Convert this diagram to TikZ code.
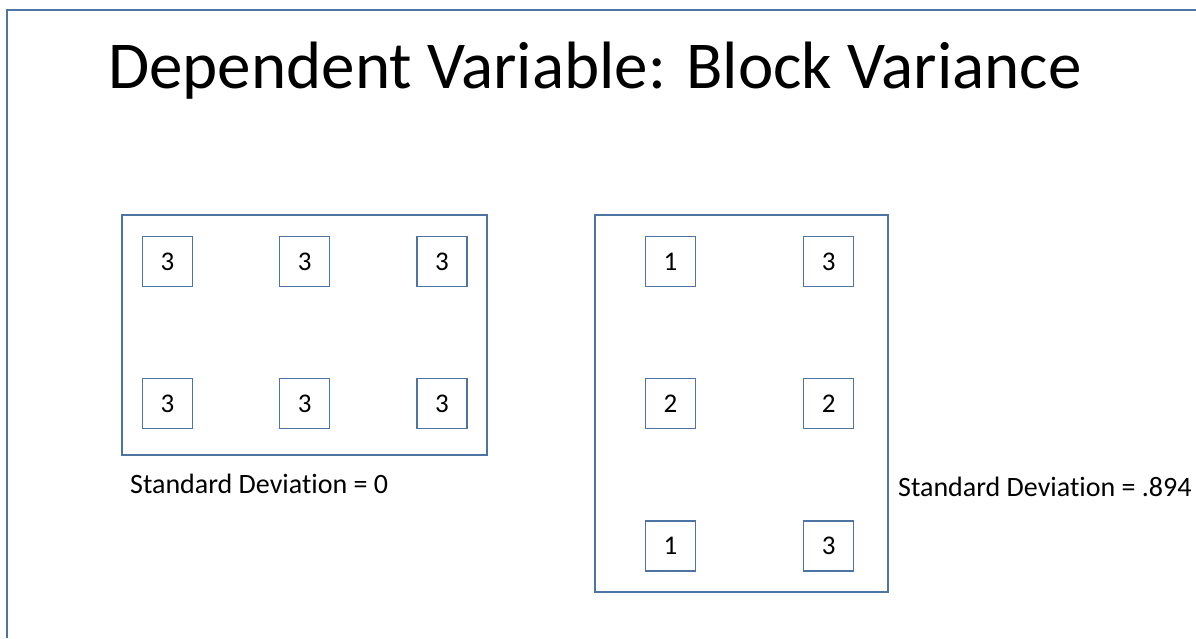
\documentclass[tikz,border=0pt]{standalone}
\usepackage{fontspec}
\setmainfont{Carlito}[Ligatures=NoCommon]
\usetikzlibrary{positioning}

\definecolor{frameblue}{RGB}{78,116,164}

\tikzset{
    outline/.style={draw=frameblue, line width=1.2pt},
    cell/.style={outline, minimum size=50pt, inner sep=0pt, font=\fontsize{27}{27}\selectfont},
    block/.style={outline, inner sep=0pt},
    caption/.style={font=\fontsize{28}{28}\selectfont, inner sep=0pt, anchor=base west},
}

\begin{document}
\begin{tikzpicture}[x=1pt, y=-1pt]
    \useasboundingbox (0,0) rectangle (1196,638);

    % Slide edge, top and left
    \coordinate (eBL) at (7,638);
    \coordinate (eTL) at (7,10);
    \coordinate (eTR) at (1196,10);
    \draw[frameblue, line width=1.2pt] (eBL) -- (eTL) -- (eTR);

    % Title
    \node[anchor=base west, inner sep=0pt, font=\fontsize{67}{67}\selectfont] (title) at (108,88)
        {Dependent Variable: Block Variance};

    % Left block, all equal
    \node[block, minimum width=365pt, minimum height=240pt] (blockL) at (304.5,335) {};
    \node[cell] (l11) at (167.5,261.5) {3};
    \node[cell, right=86pt of l11] (l12) {3};
    \node[cell, right=86pt of l12] (l13) {3};
    \node[cell, below=91pt of l11] (l21) {3};
    \node[cell, right=86pt of l21] (l22) {3};
    \node[cell, right=86pt of l22] (l23) {3};
    \node[caption] (sdL) at (130,493) {Standard Deviation = 0};

    % Right block, mixed
    \node[block, minimum width=293pt, minimum height=377pt] (blockR) at (741.5,403.5) {};
    \node[cell] (r11) at (670.5,261.5) {1};
    \node[cell, right=107pt of r11] (r12) {3};
    \node[cell, below=91pt of r11] (r21) {2};
    \node[cell, right=107pt of r21] (r22) {2};
    \node[cell, below=91pt of r21] (r31) {1};
    \node[cell, right=107pt of r31] (r32) {3};
    \node[caption] (sdR) at (898,496) {Standard Deviation = .894};
\end{tikzpicture}
\end{document}
